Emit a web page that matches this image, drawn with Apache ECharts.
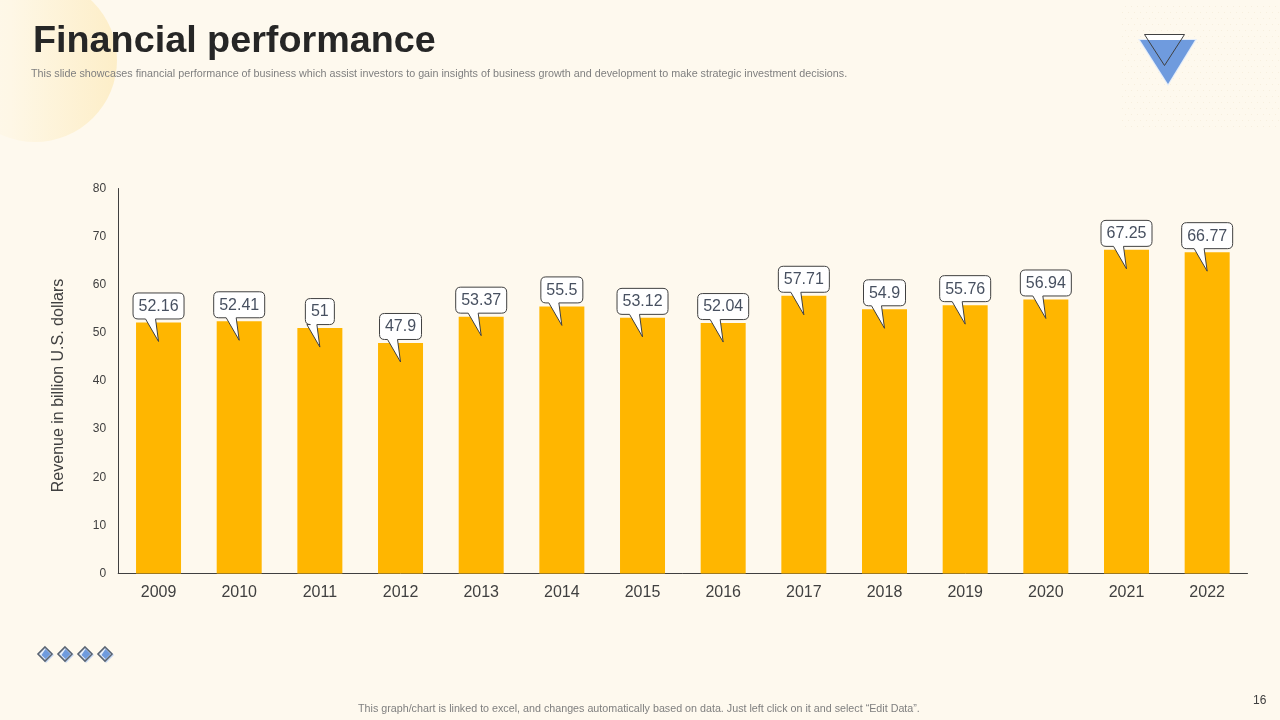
<!DOCTYPE html>
<html><head><meta charset="utf-8">
<style>html,body{margin:0;padding:0;background:#FEF9EE}#c{width:1280px;height:720px}</style>
<script src="https://cdn.jsdelivr.net/npm/echarts@6/dist/echarts.min.js"></script>
</head><body><div id="c"></div>
<script>
const years = ['2009','2010','2011','2012','2013','2014','2015','2016','2017','2018','2019','2020','2021','2022'];
const revenue = [52.16,52.41,51,47.9,53.37,55.5,53.12,52.04,57.71,54.9,55.76,56.94,67.25,66.77];
const titleText = 'Financial performance';
const subtitleText = 'This slide showcases financial performance of business which assist investors to gain insights of business growth and development to make strategic investment decisions.';
const footerText = 'This graph/chart is linked to excel, and changes automatically based on data. Just left click on it and select “Edit Data”.';
const axisName = 'Revenue in billion U.S. dollars';
const pageNo = '16';
const FF = '"Liberation Sans", Arial, sans-serif';

const mc = document.createElement('canvas').getContext('2d');
mc.font = '16px "Liberation Sans"';

function callout(params, api) {
  const v = api.value(1);
  const p = api.coord([api.value(0), v]);
  const txt = String(v);
  const w = Math.round(mc.measureText(txt).width) + 11;
  const h = 26, r = 5;
  const cx = p[0], left = cx - w / 2, top = p[1] - 29.5;
  const tipX = w / 2, tipY = 48.5;
  const n1 = w / 2 - 13, n2 = w / 2 - 3;
  const d = `M${r} 0L${w-r} 0Q${w} 0 ${w} ${r}L${w} ${h-r}Q${w} ${h} ${w-r} ${h}L${n2} ${h}L${tipX} ${tipY}L${n1} ${h}L${r} ${h}Q0 ${h} 0 ${h-r}L0 ${r}Q0 0 ${r} 0Z`;
  return {
    type: 'group',
    children: [
      { type: 'path', shape: { pathData: d, x: left, y: top, width: w, height: tipY, layout: 'cover' },
        style: { fill: '#FFFFFF', stroke: '#404040', lineWidth: 1 } },
      { type: 'text', style: { text: txt, x: cx, y: top + h / 2 + 0.5, align: 'center', verticalAlign: 'middle',
        font: '16px ' + FF, fill: '#475060' } }
    ]
  };
}

function diamond(cx, cy) {
  return [
    { type: 'polygon', shape: { points: [[cx + 1, cy - 7], [cx + 9, cy + 1], [cx + 1, cy + 9], [cx - 6, cy + 1]] }, style: { fill: '#C4D6F2' } },
    { type: 'polygon', shape: { points: [[cx, cy - 7], [cx + 7, cy], [cx, cy + 7], [cx - 7, cy]] }, style: { fill: '#E6EEFA', stroke: '#5A6472', lineWidth: 1.6 } },
    { type: 'polygon', shape: { points: [[cx + 0.5, cy - 5], [cx + 5.5, cy], [cx + 0.5, cy + 5], [cx - 3.5, cy + 1]] }, style: { fill: '#6F9BDE' } }
  ];
}

const dots = [];
for (let y = 6; y < 130; y += 6) for (let x = 1122 + (y % 12 ? 3 : 0); x < 1280; x += 6)
  dots.push({ type: 'rect', silent: true, shape: { x: x, y: y, width: 1, height: 1 }, style: { fill: '#F7EFDE' } });

const chart = echarts.init(document.getElementById('c'), null, { renderer: 'canvas', width: 1280, height: 720 });
chart.setOption({
  animation: false,
  backgroundColor: '#FEF9EE',
  textStyle: { fontFamily: FF },
  grid: { left: 118.2, right: 32.5, top: 188.5, bottom: 146.5, containLabel: false },
  xAxis: {
    type: 'category', data: years,
    axisLine: { lineStyle: { color: '#404040', width: 1 } },
    axisTick: { show: false },
    axisLabel: { color: '#404040', fontSize: 16, margin: 11, fontFamily: FF }
  },
  yAxis: {
    type: 'value', min: 0, max: 80, interval: 10,
    name: axisName, nameLocation: 'middle', nameGap: 52, nameRotate: 90,
    nameTextStyle: { color: '#404040', fontSize: 16, fontFamily: FF, padding: [0, 9, 0, 0] },
    axisLine: { show: true, lineStyle: { color: '#404040', width: 1 } },
    axisTick: { show: false },
    splitLine: { show: false },
    axisLabel: { color: '#404040', fontSize: 12, margin: 12, fontFamily: FF }
  },
  series: [
    { type: 'bar', data: revenue, barWidth: 45, itemStyle: { color: '#FFB600' }, z: 2 },
    { type: 'custom', data: years.map((y, i) => [i, revenue[i]]), renderItem: callout, encode: { x: 0, y: 1 }, z: 5, clip: false, silent: true }
  ],
  graphic: { elements: [
    { type: 'circle', z: -10, shape: { cx: 35, cy: 60, r: 82 },
      style: { fill: new echarts.graphic.LinearGradient(0, 0, 1, 0, [
        { offset: 0, color: '#FEF9EE' }, { offset: 0.35, color: '#FEF7E6' }, { offset: 1, color: '#FDEEC8' }]) } },
    ...dots.map(d => Object.assign(d, { z: -10 })),
    { type: 'text', left: 33, top: 23, style: { text: titleText, font: 'bold 37.75px ' + FF, fill: '#262626' } },
    { type: 'text', left: 31, top: 69, style: { text: subtitleText, font: '10.77px ' + FF, fill: '#7F7F7F' } },
    { type: 'text', left: 358, top: 704, style: { text: footerText, font: '10.73px ' + FF, fill: '#7F7F7F' } },
    { type: 'text', left: 1253, top: 695, style: { text: pageNo, font: '12px ' + FF, fill: '#404040' } },
    { type: 'polygon', z: 3, shape: { points: [[1138, 39], [1197, 39], [1168, 86]] }, style: { fill: '#E4EDFA' } },
    { type: 'polygon', z: 3, shape: { points: [[1140, 40], [1195, 40], [1168, 84]] }, style: { fill: '#6F9BDE' } },
    { type: 'polygon', z: 3, shape: { points: [[1144.5, 34.5], [1184.5, 34.5], [1181, 40], [1148, 40]] }, style: { fill: '#FFFFFF' } },
    { type: 'polygon', z: 4, shape: { points: [[1144.5, 34.5], [1184.5, 34.5], [1164.5, 65.5]] }, style: { fill: 'rgba(255,255,255,0)', stroke: '#404040', lineWidth: 1 } },
    ...[45, 65, 85, 105].flatMap(x => diamond(x, 654))
  ] }
});
</script></body></html>
